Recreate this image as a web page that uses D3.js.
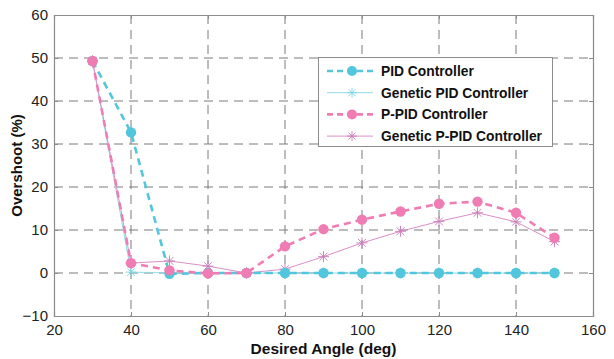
<!DOCTYPE html>
<html><head><meta charset="utf-8">
<script src="https://cdn.jsdelivr.net/npm/d3@7"></script>
<style>body{margin:0;background:#fff}svg{display:block}</style>
</head><body>
<svg id="c" width="614" height="359"></svg>
<script>
const angles = [30,40,50,60,70,80,90,100,110,120,130,140,150];
const pid = [49.3,32.7,-0.2,0,0,0,0,0,0,0,0,0,0];
const geneticPid = [49.3,0.2,0,0,0,0,0,0,0,0,0,0,0];
const ppid = [49.3,2.3,0.6,-0.1,0,6.2,10.2,12.4,14.3,16.1,16.6,14.0,8.2];
const geneticPpid = [49.3,2.3,2.8,1.6,0,0.9,3.8,7.0,9.7,12.0,14.0,11.9,7.3];
const xTicks = [20,40,60,80,100,120,140,160];
const yTicks = [-10,0,10,20,30,40,50,60];
const seriesNames = ["PID Controller","Genetic PID Controller","P-PID Controller","Genetic P-PID Controller"];

const cyan = "#52c6dc", pink = "#f07cb4", pinkThin = "#d98fc8";
const series = [
  {name:seriesNames[0], vals:pid, color:cyan, width:2.6, dash:"7,5", marker:"dot"},
  {name:seriesNames[1], vals:geneticPid, color:"#8fdbe6", width:1, dash:null, marker:"star"},
  {name:seriesNames[2], vals:ppid, color:pink, width:2.6, dash:"7,5", marker:"dot"},
  {name:seriesNames[3], vals:geneticPpid, color:pinkThin, width:1, dash:null, marker:"star"}
];

const svg = d3.select("#c");
const L=54,R=593,T=15,B=316;
const x = d3.scaleLinear().domain([20,160]).range([L,R]);
const y = d3.scaleLinear().domain([-10,60]).range([B,T]);
const FF = "Liberation Sans, Arial, sans-serif";

// grid
const g = svg.append("g");
xTicks.slice(1,-1).forEach(t=>g.append("line").attr("x1",x(t)).attr("x2",x(t)).attr("y1",T).attr("y2",B)
  .attr("stroke","#7a7a7a").attr("stroke-width",1).attr("stroke-dasharray","9,6"));
yTicks.slice(1,-1).forEach(t=>g.append("line").attr("y1",y(t)).attr("y2",y(t)).attr("x1",L).attr("x2",R)
  .attr("stroke","#7a7a7a").attr("stroke-width",1).attr("stroke-dasharray","9,6"));

// axes
svg.append("g").attr("transform",`translate(0,${B})`)
  .call(d3.axisBottom(x).tickValues(xTicks).tickSize(-4).tickPadding(8));
svg.append("g").attr("transform",`translate(${L},0)`)
  .call(d3.axisLeft(y).tickValues(yTicks).tickSize(-4).tickPadding(6));
svg.append("g").attr("transform",`translate(0,${T})`).call(d3.axisTop(x).tickValues(xTicks).tickSize(-4).tickFormat(""));
svg.append("g").attr("transform",`translate(${R},0)`).call(d3.axisRight(y).tickValues(yTicks).tickSize(-4).tickFormat(""));
svg.selectAll(".domain").attr("stroke","#8c8c8c").attr("stroke-width",1.2);
svg.selectAll(".tick line").attr("stroke","#8c8c8c");
svg.selectAll(".tick text").attr("font-family",FF).attr("font-size",15).attr("fill","#222");

// lines
const line = d3.line().x((d,i)=>x(angles[i])).y(d=>y(d));
function star(sel, cx, cy, r, color){
  for(let k=0;k<4;k++){
    const a = k*Math.PI/4;
    sel.append("line").attr("x1",cx-r*Math.cos(a)).attr("y1",cy-r*Math.sin(a))
      .attr("x2",cx+r*Math.cos(a)).attr("y2",cy+r*Math.sin(a)).attr("stroke",color).attr("stroke-width",0.9);
  }
}
const order = [1,3,0,2];
order.forEach(si=>{
  const s = series[si];
  const gg = svg.append("g");
  gg.append("path").attr("d",line(s.vals)).attr("fill","none").attr("stroke",s.color)
    .attr("stroke-width",s.width).attr("stroke-dasharray",s.dash);
  s.vals.forEach((v,i)=>{
    if(s.marker==="dot") gg.append("circle").attr("cx",x(angles[i])).attr("cy",y(v)).attr("r",5.2).attr("fill",s.color);
    else star(gg,x(angles[i]),y(v),5.5,si===3?"#c87ab8":"#7fd6e4");
  });
});

// legend
const lg = svg.append("g");
lg.append("rect").attr("x",318.5).attr("y",57.5).attr("width",234).attr("height",89)
  .attr("fill","#fff").attr("stroke","#8c8c8c").attr("stroke-width",1);
series.forEach((s,i)=>{
  const yy = 71 + i*21.7;
  lg.append("line").attr("x1",327).attr("x2",373).attr("y1",yy).attr("y2",yy)
    .attr("stroke",s.color).attr("stroke-width",s.width).attr("stroke-dasharray",s.dash?"6,4":null);
  if(s.marker==="dot") lg.append("circle").attr("cx",352).attr("cy",yy).attr("r",5).attr("fill",s.color);
  else star(lg,352,yy,5,i===3?"#c87ab8":"#7fd6e4");
  lg.append("text").attr("x",381).attr("y",yy+5).text(s.name)
    .attr("font-family",FF).attr("font-weight","bold").attr("font-size",13.8).attr("fill","#111");
});

// titles
svg.append("text").attr("x",(L+R)/2).attr("y",354).attr("text-anchor","middle").text("Desired Angle (deg)")
  .attr("font-family",FF).attr("font-weight","bold").attr("font-size",15.5).attr("fill","#111");
svg.append("text").attr("transform",`translate(22,${(T+B)/2}) rotate(-90)`).attr("text-anchor","middle").text("Overshoot (%)")
  .attr("font-family",FF).attr("font-weight","bold").attr("font-size",15).attr("fill","#111");
</script>
</body></html>
